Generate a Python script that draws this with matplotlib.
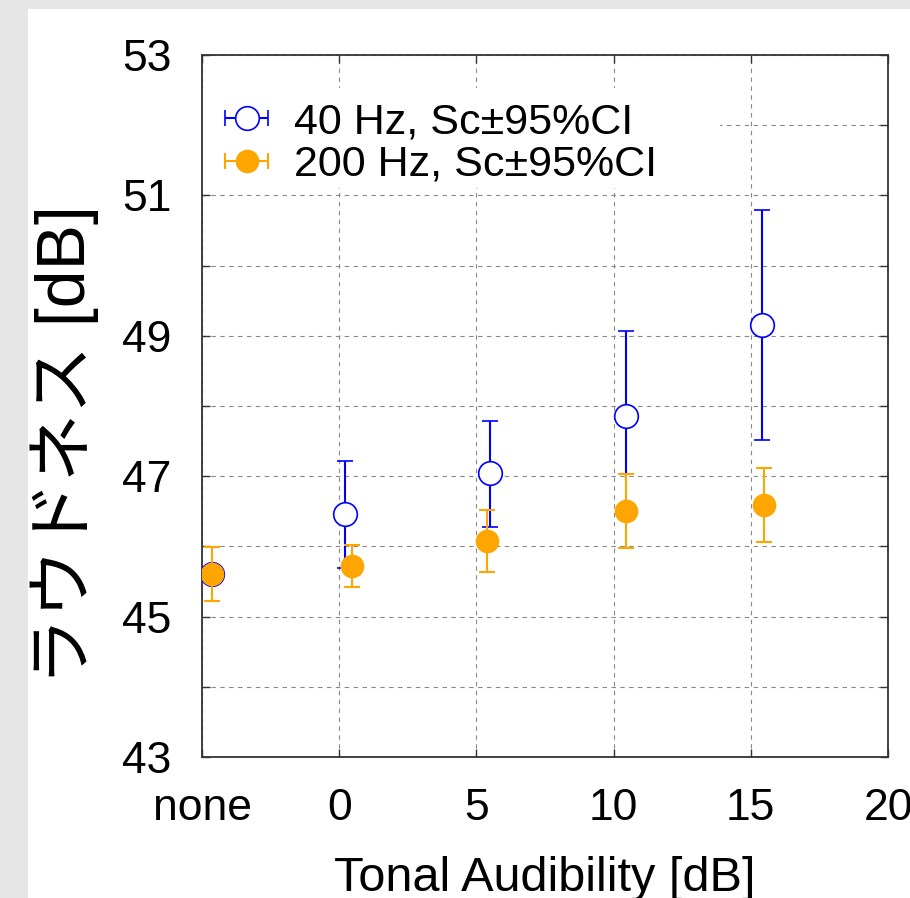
import numpy as np
import matplotlib
matplotlib.use("Agg")
import matplotlib.pyplot as plt
from matplotlib.patches import Rectangle

# tonal audibility (x), "none" is drawn at the left edge
tick_pos = [-5, 0, 5, 10, 15, 20]
tick_labels = ["none", "0", "5", "10", "15", "20"]

# 40 Hz series: loudness and 95% CI bounds
x40 = [-4.64, 0.22, 5.51, 10.44, 15.39]
y40 = [45.60, 46.46, 47.04, 47.86, 49.15]
lo40 = [45.60, 45.69, 46.28, 47.03, 47.51]
hi40 = [45.60, 47.22, 47.79, 49.07, 50.79]

# 200 Hz series
x200 = [-4.64, 0.47, 5.40, 10.44, 15.47]
y200 = [45.60, 45.72, 46.08, 46.50, 46.59]
lo200 = [45.22, 45.42, 45.64, 45.98, 46.06]
hi200 = [45.99, 46.02, 46.52, 47.03, 47.12]

plt.rcParams['font.family'] = ['Liberation Sans', 'DejaVu Sans']

fig = plt.figure(figsize=(9.1, 8.98), dpi=100, facecolor='#e6e6e6')
# white panel inside the gray frame
fig.patches.append(Rectangle((28 / 910, 0), 1, 1 - 9 / 898, transform=fig.transFigure,
                             facecolor='white', edgecolor='none', zorder=-10))

ax = fig.add_axes([202 / 910, 1 - 757 / 898, 686 / 910, 702 / 898])
ax.set_axisbelow(True)

def err(y, lo, hi):
    y = np.array(y)
    return [y - np.array(lo), np.array(hi) - y]

ax.errorbar(x40, y40, yerr=err(y40, lo40, hi40), fmt='o', ms=17, mfc='white',
            mec='#0000ff', mew=1.2, color='#0000ff', elinewidth=1.5,
            capsize=5.5, capthick=1.5, zorder=3)
ax.errorbar(x200, y200, yerr=err(y200, lo200, hi200), fmt='o', ms=16, mfc='#ffa500',
            mec='#ffa500', color='#ffa500', elinewidth=1.5,
            capsize=5.5, capthick=1.5, zorder=4)

# legend handles: horizontal bars like the original key
h40 = ax.errorbar([np.nan], [np.nan], xerr=[1], fmt='o', ms=17, mfc='white',
                  mec='#0000ff', mew=1.2, color='#0000ff', elinewidth=1.5,
                  capsize=5.5, capthick=1.5, label='40 Hz, Sc\u00b195%CI')
h200 = ax.errorbar([np.nan], [np.nan], xerr=[1], fmt='o', ms=16, mfc='#ffa500',
                   mec='#ffa500', color='#ffa500', elinewidth=1.5,
                   capsize=5.5, capthick=1.5, label='200 Hz, Sc\u00b195%CI')

ax.set_xlim(-5, 20)
ax.set_ylim(43, 53)
ax.set_xticks(tick_pos)
ax.set_xticklabels(tick_labels)
ax.set_yticks(np.arange(43, 54, 2))
ax.set_yticks(np.arange(44, 53, 2), minor=True)

ax.grid(True, which='both', color='#888888', linestyle=(0, (4, 4)), linewidth=0.8)
ax.tick_params(which='both', direction='in', top=True, right=True,
               length=6, width=1, color='#333333')
ax.tick_params(axis='y', labelsize=32, pad=22)
ax.tick_params(axis='x', labelsize=32, pad=22)
for s in ax.spines.values():
    s.set_linewidth(1.3)
    s.set_color('#333333')

# white box behind the key hides the grid
ax.add_patch(Rectangle((0, 0.8105), 0.755, 0.143, transform=ax.transAxes,
                       facecolor='white', edgecolor='none', zorder=1))
ax.legend(handles=[h40, h200], loc='upper left', bbox_to_anchor=(0.0335, 0.933),
          frameon=False, fontsize=31, borderpad=0, borderaxespad=0,
          handlelength=1.0, handletextpad=0.6, labelspacing=0.06)

ax.set_xlabel('Tonal Audibility [dB]', fontsize=35, labelpad=20)
fig.text(65 / 910, 1 - 445 / 898, 'ラウドネス [dB]', rotation=90, ha='center', va='center',
         fontsize=49, family=['Liberation Sans', 'Noto Sans CJK JP'])

fig.savefig('out.png', dpi=100, facecolor=fig.get_facecolor())
